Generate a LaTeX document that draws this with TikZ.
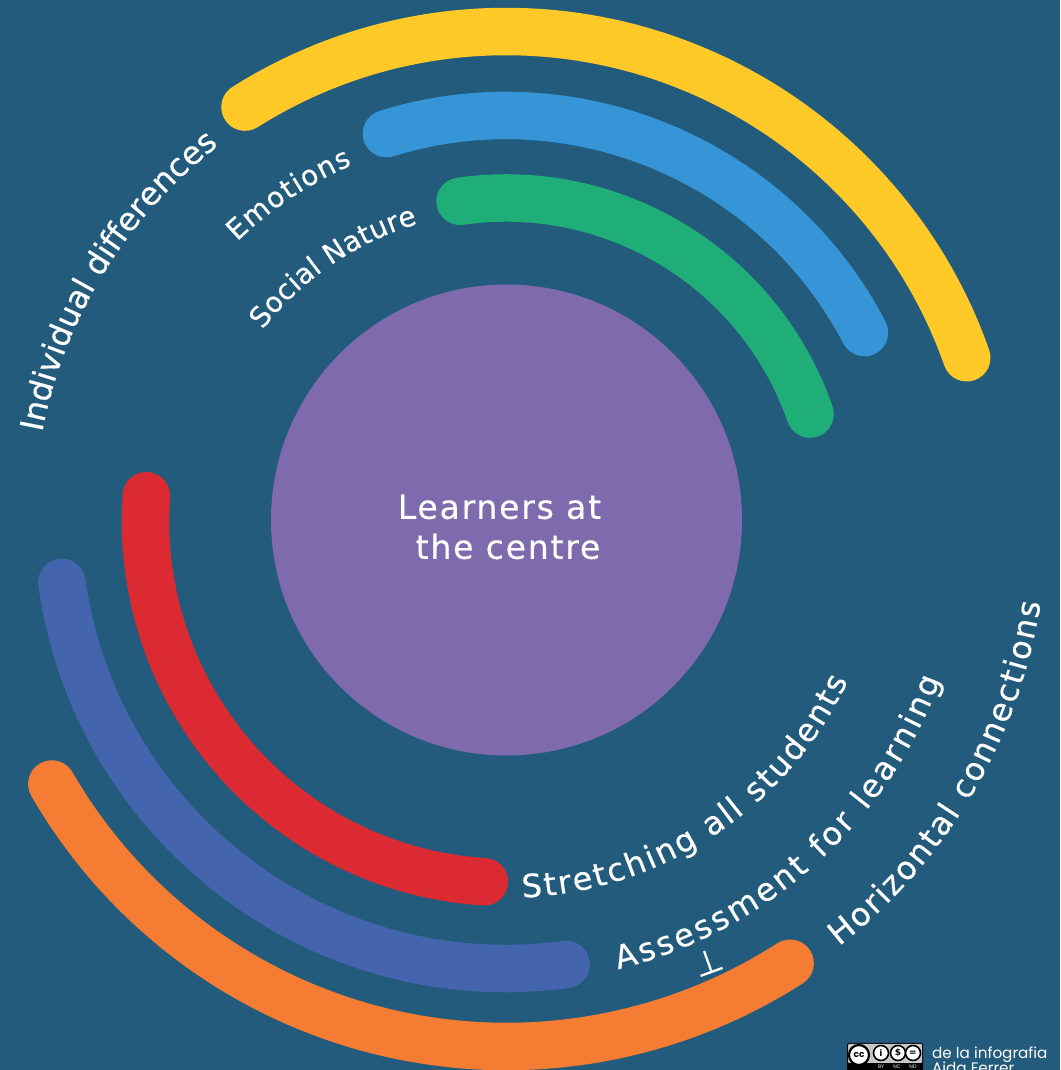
\documentclass[tikz,border=0pt]{standalone}
\usepackage{fontspec}
\setmainfont{DejaVu Sans}
\newfontfamily\popp{Poppins}
\newfontfamily\lblfont[FakeBold=0.4]{DejaVu Sans}
\newfontfamily\ctrfont[LetterSpace=5.5,FakeBold=0.5]{DejaVu Sans}
\usetikzlibrary{decorations.text,calc}
\definecolor{bgc}{RGB}{35,91,124}
\definecolor{purp}{RGB}{128,106,174}
\definecolor{yell}{RGB}{255,201,40}
\definecolor{blu}{RGB}{53,149,214}
\definecolor{grn}{RGB}{31,174,120}
\definecolor{redc}{RGB}{219,42,50}
\definecolor{indg}{RGB}{68,100,174}
\definecolor{orng}{RGB}{245,124,51}
\tikzset{
  band/.style={line width=47.5pt,line cap=round},
  bigl/.style={decorate,decoration={text along path,text align=fit to path,
     text={|\lblfont\fontsize{32}{32}\selectfont\color{white}|#1}}},
  midl/.style={decorate,decoration={text along path,text align=fit to path,
     text={|\lblfont\fontsize{28}{28}\selectfont\color{white}|#1}}},
  ccring/.style={circle,draw=black,fill=white,line width=1.6pt,inner sep=0pt,minimum size=15pt}
}
\newcommand{\bandarc}[4]{\draw[band,#1] (#2:#4pt) arc[start angle=#2,end angle=#3,radius=#4pt];}
\begin{document}
\begin{tikzpicture}
\useasboundingbox (0,0) rectangle (1060pt,1070pt);
\clip (0,0) rectangle (1060pt,1070pt);
\fill[bgc] (0,0) rectangle (1060pt,1070pt);
\begin{scope}[shift={(506pt,550pt)}]
  \node[circle,fill=purp,minimum size=471pt,inner sep=0pt] (core) at (0.5pt,0) {};
  \node[text=white,align=center,font=\fontsize{33}{40}\ctrfont] (corelabel) at (-6.5pt,-7pt)
     {Learners at\\[0pt]\hspace*{17pt}the centre};
  \bandarc{yell}{122.3}{19.4}{488.5}
  \bandarc{blu}{107.2}{27.6}{404.5}
  \bandarc{grn}{98.2}{19.2}{322}
  \begin{scope}[shift={(1pt,-1pt)}]
    \bandarc{redc}{176}{266.4}{361.5}
  \end{scope}
  \bandarc{indg}{188}{277.7}{448.5}
  \begin{scope}[shift={(0.5pt,-1.5pt)}]
    \bandarc{orng}{210}{302.7}{525}
  \end{scope}
  \path[bigl={Individual differences}] (169.3:472pt) arc[start angle=169.3,end angle=127.6,radius=472pt];
  \path[midl={Emotions}] (134:387pt) arc[start angle=134,end angle=113.4,radius=387pt];
  \path[midl={Social Nature}] (142:309pt) arc[start angle=142,end angle=106.6,radius=309pt];
  \path[bigl={Stretching all students}] (272.5:378pt) arc[start angle=272.5,end angle=334.8,radius=378pt];
  \path[bigl={Assessment for learning}] (284:463pt) arc[start angle=284,end angle=339.8,radius=463pt];
  \path[bigl={Horizontal connections}] (308:541pt) arc[start angle=308,end angle=351.2,radius=541pt];
\end{scope}
\node[text=white,rotate=20,font=\lblfont\fontsize{33}{33}\selectfont,inner sep=0pt] (stray) at (708pt,108pt) {⊥};
% licence badge
\fill[black,rounded corners=2pt] (847pt,-5pt) rectangle (923pt,27pt);
\fill[black!22,rounded corners=1pt] (848pt,7pt) rectangle (922pt,26pt);
\node[ccring,minimum size=20pt,line width=2.2pt,font=\popp\bfseries\fontsize{9}{9}\selectfont] (cc) at (859pt,15pt) {cc};
\node[ccring,font=\bfseries\fontsize{9}{9}\selectfont] (by) at (881pt,17pt) {i};
\node[ccring,font=\bfseries\fontsize{9}{9}\selectfont] (nc) at (898pt,17pt) {\$};
\node[ccring,font=\bfseries\fontsize{9}{9}\selectfont] (nd) at (913pt,17pt) {=};
\node[text=white,font=\popp\fontsize{5}{5}\selectfont,inner sep=0pt] (byt) at (881pt,3.5pt) {BY};
\node[text=white,font=\popp\fontsize{5}{5}\selectfont,inner sep=0pt] (nct) at (897pt,3.5pt) {NC};
\node[text=white,font=\popp\fontsize{5}{5}\selectfont,inner sep=0pt] (ndt) at (913pt,3.5pt) {ND};
\node[text=white,anchor=base west,font=\popp\fontsize{15.2}{15}\selectfont,inner sep=0pt] (c1) at (932pt,11pt) {de la infografia};
\node[text=white,anchor=base west,font=\popp\fontsize{15.2}{15}\selectfont,inner sep=0pt] (c2) at (932pt,-4pt) {Aida Ferrer};
\end{tikzpicture}
\end{document}
